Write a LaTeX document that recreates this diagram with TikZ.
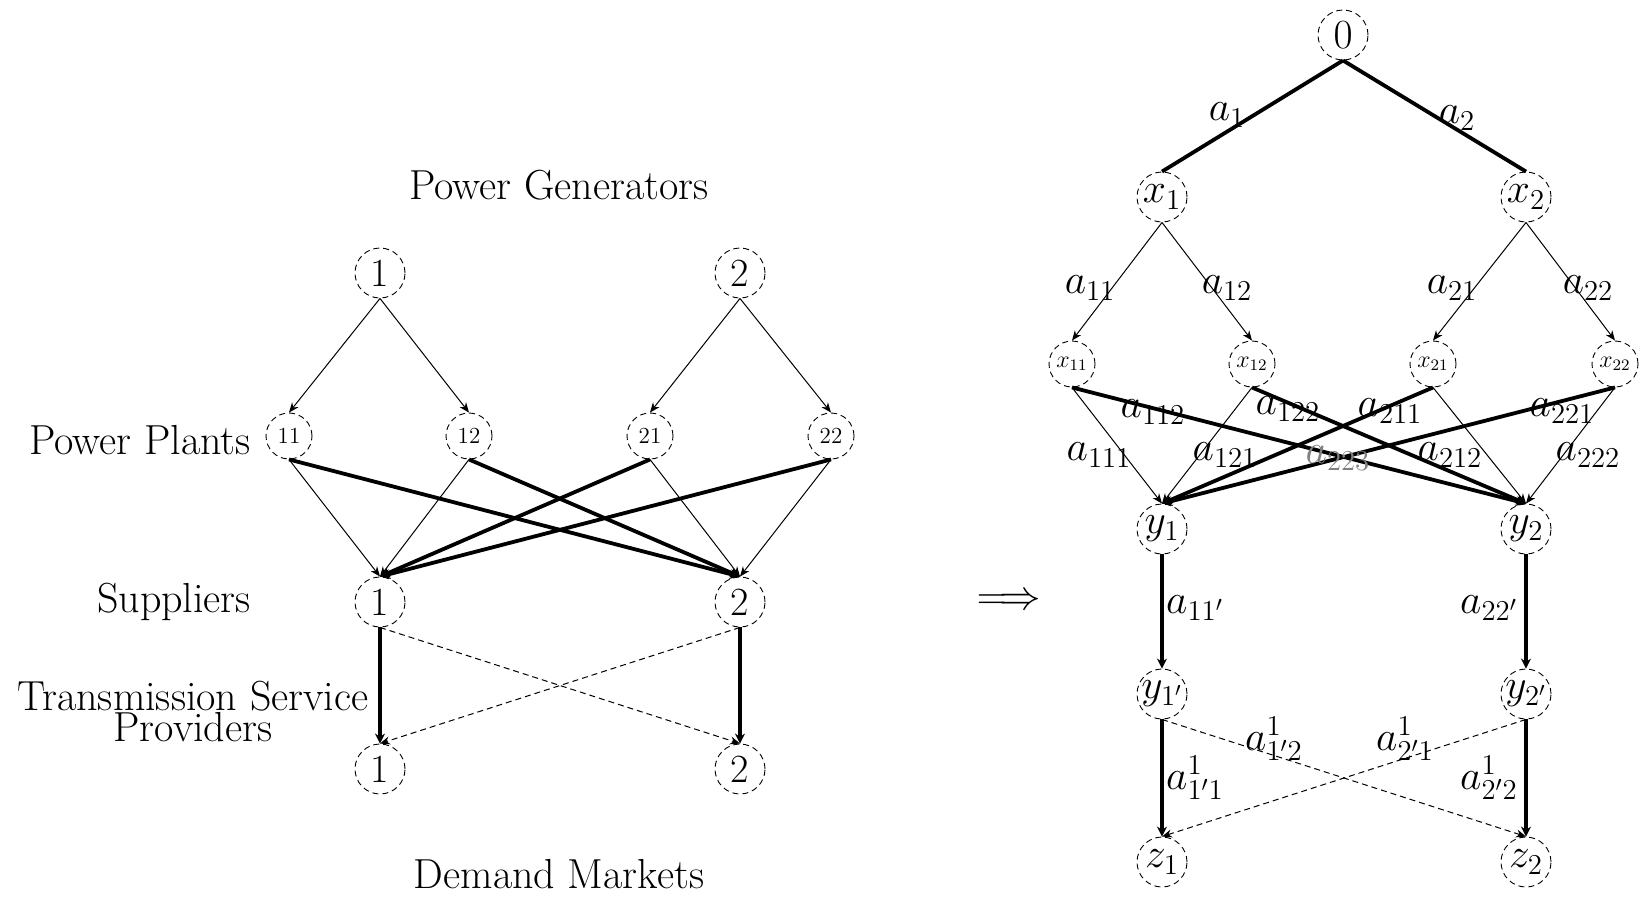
\documentclass[tikz,border=0pt]{standalone}
\usetikzlibrary{arrows.meta}
\begin{document}
\begin{tikzpicture}[x=0.5pt,y=-0.5pt,
  every node/.style={font=\fontsize{20}{24}\selectfont},
  circ/.style={circle,draw,densely dashed,line width=0.45pt,minimum size=25pt,inner sep=0pt},
  smallcirc/.style={circ,minimum size=23pt,font=\fontsize{11.5}{12}\selectfont},
  thin edge/.style={line width=0.5pt,-{Stealth[length=5pt,width=4pt]}},
  thick edge/.style={line width=1.9pt,-{Stealth[length=5pt,width=5pt]}},
  dash edge/.style={line width=0.5pt,densely dashed,-{Stealth[length=5pt,width=4pt]}},
  lab/.style={inner sep=0pt,font=\fontsize{21}{24}\selectfont},
  ttl/.style={inner sep=0pt,align=center,font=\fontsize{21}{15.5}\selectfont}]
\useasboundingbox (0,0) rectangle (1644,896);
% ---------- left network ----------
\node[ttl] (tPG) at (559,185) {Power Generators};
\node[ttl] (tPP) at (140,440) {Power Plants};
\node[ttl] (tS) at (174,602) {Suppliers};
\node[ttl] (tT) at (193,711) {Transmission Service\\Providers};
\node[ttl] (tD) at (559,874) {Demand Markets};
\node[circ] (G1) at (380,273) {1};
\node[circ] (G2) at (740,273) {2};
\node[smallcirc] (P11) at (289,436) {11};
\node[smallcirc] (P12) at (469,436) {12};
\node[smallcirc] (P21) at (650,436) {21};
\node[smallcirc] (P22) at (831,436) {22};
\node[circ] (S1) at (380,602) {1};
\node[circ] (S2) at (740,602) {2};
\node[circ] (T1) at (380,769) {1};
\node[circ] (T2) at (740,769) {2};
\draw[thin edge] (G1.south) -- (P11.north);
\draw[thin edge] (G1.south) -- (P12.north);
\draw[thin edge] (G2.south) -- (P21.north);
\draw[thin edge] (G2.south) -- (P22.north);
\draw[thin edge] (P11.south) -- (S1.north);
\draw[thin edge] (P12.south) -- (S1.north);
\draw[thin edge] (P21.south) -- (S2.north);
\draw[thin edge] (P22.south) -- (S2.north);
\draw[thick edge] (P11.south) -- (S2.north);
\draw[thick edge] (P12.south) -- (S2.north);
\draw[thick edge] (P21.south) -- (S1.north);
\draw[thick edge] (P22.south) -- (S1.north);
\draw[thick edge] (S1.south) -- (T1.north);
\draw[thick edge] (S2.south) -- (T2.north);
\draw[dash edge] (S1.south) -- (T2.north);
\draw[dash edge] (S2.south) -- (T1.north);
% ---------- arrow ----------
\node[lab] (imp) at (1009,602) {$\Longrightarrow$};
% ---------- right network ----------
\node[circ] (R0) at (1343,35) {$0$};
\node[circ] (X1) at (1162,197) {$x_1$};
\node[circ] (X2) at (1526,197) {$x_2$};
\node[smallcirc] (X11) at (1072,364) {$x_{11}$};
\node[smallcirc] (X12) at (1252,364) {$x_{12}$};
\node[smallcirc] (X21) at (1433,364) {$x_{21}$};
\node[smallcirc] (X22) at (1615,364) {$x_{22}$};
\node[circ] (Y1) at (1162,529) {$y_1$};
\node[circ] (Y2) at (1526,529) {$y_2$};
\node[circ] (Y1p) at (1162,694) {$y_{1'}$};
\node[circ] (Y2p) at (1526,694) {$y_{2'}$};
\node[circ] (Z1) at (1162,862) {$z_1$};
\node[circ] (Z2) at (1526,862) {$z_2$};
\draw[line width=1.9pt] (R0.south) -- (X1.north);
\draw[line width=1.9pt] (R0.south) -- (X2.north);
\draw[thin edge] (X1.south) -- (X11.north);
\draw[thin edge] (X1.south) -- (X12.north);
\draw[thin edge] (X2.south) -- (X21.north);
\draw[thin edge] (X2.south) -- (X22.north);
\draw[thin edge] (X11.south) -- (Y1.north);
\draw[thin edge] (X12.south) -- (Y1.north);
\draw[thin edge] (X21.south) -- (Y2.north);
\draw[thin edge] (X22.south) -- (Y2.north);
\draw[thick edge] (X11.south) -- (Y2.north);
\draw[thick edge] (X12.south) -- (Y2.north);
\draw[thick edge] (X21.south) -- (Y1.north);
\draw[thick edge] (X22.south) -- (Y1.north);
\draw[thick edge] (Y1.south) -- (Y1p.north);
\draw[thick edge] (Y2.south) -- (Y2p.north);
\draw[thick edge] (Y1p.south) -- (Z1.north);
\draw[thick edge] (Y2p.south) -- (Z2.north);
\draw[dash edge] (Y1p.south) -- (Z2.north);
\draw[dash edge] (Y2p.south) -- (Z1.north);
% ---------- right labels ----------
\node[lab] (la1) at (1227,115) {$a_1$};
\node[lab] (la2) at (1457,118) {$a_2$};
\node[lab] (la11) at (1090,288) {$a_{11}$};
\node[lab] (la12) at (1227,288) {$a_{12}$};
\node[lab] (la21) at (1452,288) {$a_{21}$};
\node[lab] (la22) at (1588,288) {$a_{22}$};
\node[lab] (la112) at (1153,412) {$a_{112}$};
\node[lab] (la122) at (1288,409) {$a_{122}$};
\node[lab] (la211) at (1390,411) {$a_{211}$};
\node[lab] (la221) at (1562,411) {$a_{221}$};
\node[lab] (la111) at (1099,455) {$a_{111}$};
\node[lab] (la121) at (1225,455) {$a_{121}$};
\node[lab] (la212) at (1450,455) {$a_{212}$};
\node[lab] (la222) at (1588,455) {$a_{222}$};
\node[lab,text=gray] (lax) at (1338,458) {$a_{223}$};
\node[lab] (la11p) at (1195,608) {$a_{11'}$};
\node[lab] (la22p) at (1489,608) {$a_{22'}$};
\node[lab] (lb12) at (1274,739) {$a^1_{1'2}$};
\node[lab] (lb21) at (1405,739) {$a^1_{2'1}$};
\node[lab] (lb11) at (1195,778) {$a^1_{1'1}$};
\node[lab] (lb22) at (1489,778) {$a^1_{2'2}$};
\end{tikzpicture}
\end{document}
